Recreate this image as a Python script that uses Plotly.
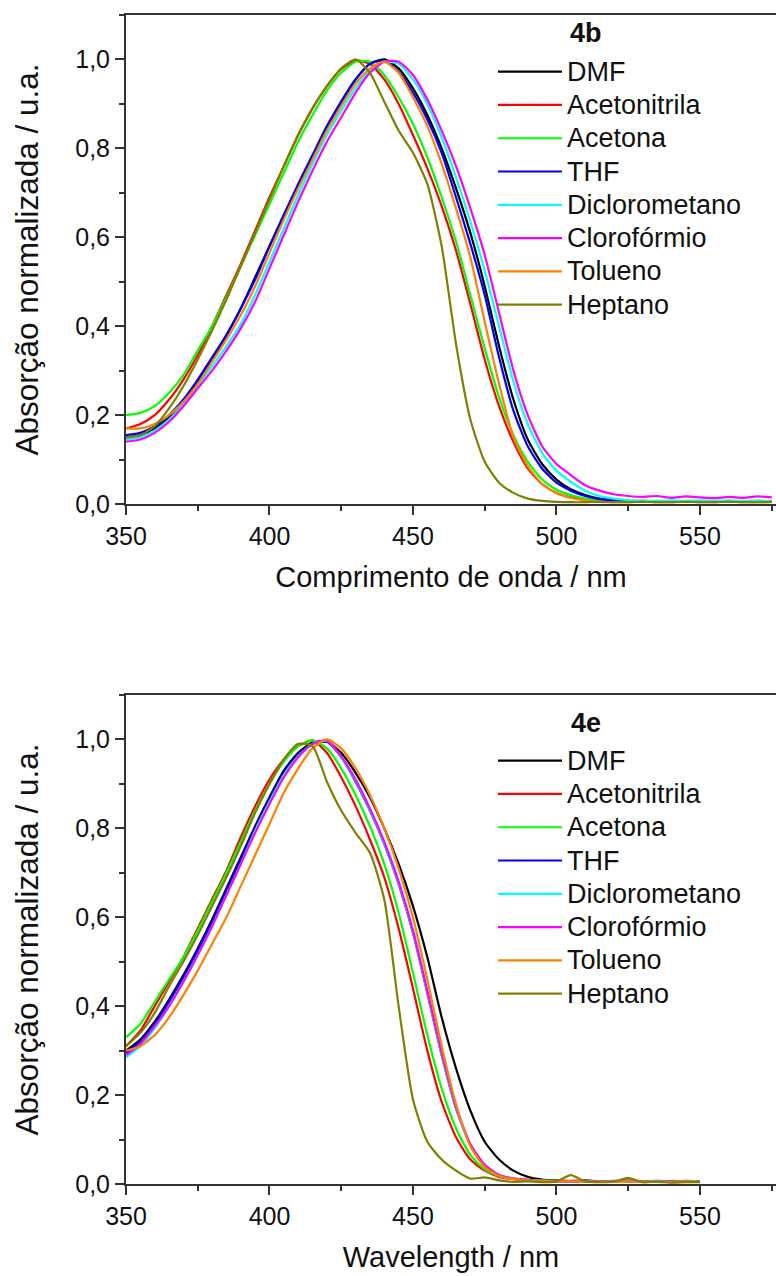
import plotly.graph_objects as go

# ---------------- data ----------------
solvents = ["DMF", "Acetonitrila", "Acetona", "THF", "Diclorometano",
            "Clorofórmio", "Tolueno", "Heptano"]
colors = ["#000000", "#FF0000", "#00FF00", "#0000FF", "#00FFFF",
          "#FF00FF", "#FF8000", "#808000"]

wl_4b = [350, 355, 360, 365, 370, 375, 380, 385, 390, 395,
         400, 405, 410, 415, 420, 425, 430, 435, 440, 445,
         450, 455, 460, 465, 470, 475, 480, 485, 490, 495,
         500, 505, 510, 515, 520, 525, 530, 535, 540, 545,
         550, 555, 560, 565, 570, 575]

dmf_4b = [0.15, 0.155, 0.17, 0.195, 0.23, 0.275, 0.325, 0.38, 0.44, 0.51,
          0.58, 0.65, 0.715, 0.78, 0.845, 0.905, 0.955, 0.99, 1.00, 0.98,
          0.935, 0.875, 0.80, 0.71, 0.61, 0.49, 0.355, 0.235, 0.145, 0.09,
          0.055, 0.033, 0.02, 0.012, 0.008, 0.006, 0.006, 0.005, 0.006, 0.005,
          0.006, 0.005, 0.006, 0.005, 0.006, 0.005]
acn_4b = [0.17, 0.18, 0.20, 0.235, 0.28, 0.335, 0.40, 0.47, 0.54, 0.615,
          0.69, 0.76, 0.83, 0.89, 0.94, 0.978, 0.998, 0.99, 0.955, 0.90,
          0.83, 0.755, 0.67, 0.57, 0.45, 0.325, 0.22, 0.14, 0.08, 0.045,
          0.025, 0.015, 0.01, 0.007, 0.006, 0.005, 0.005, 0.005, 0.006, 0.005,
          0.005, 0.006, 0.005, 0.005, 0.006, 0.005]
acet_4b = [0.20, 0.205, 0.22, 0.25, 0.29, 0.345, 0.40, 0.465, 0.535, 0.605,
           0.675, 0.745, 0.815, 0.875, 0.93, 0.97, 0.995, 0.995, 0.965, 0.915,
           0.855, 0.78, 0.69, 0.59, 0.47, 0.35, 0.24, 0.155, 0.095, 0.055,
           0.032, 0.02, 0.012, 0.008, 0.006, 0.005, 0.005, 0.006, 0.005, 0.005,
           0.006, 0.005, 0.005, 0.006, 0.005, 0.005]
thf_4b = [0.155, 0.16, 0.175, 0.20, 0.235, 0.28, 0.33, 0.38, 0.44, 0.505,
          0.58, 0.65, 0.72, 0.785, 0.85, 0.905, 0.955, 0.99, 0.997, 0.972,
          0.925, 0.865, 0.79, 0.69, 0.585, 0.47, 0.33, 0.21, 0.13, 0.08,
          0.048, 0.03, 0.018, 0.011, 0.008, 0.006, 0.006, 0.005, 0.006, 0.005,
          0.006, 0.005, 0.006, 0.005, 0.005, 0.006]
dcm_4b = [0.145, 0.15, 0.165, 0.19, 0.225, 0.265, 0.31, 0.355, 0.405, 0.47,
          0.545, 0.62, 0.695, 0.765, 0.83, 0.885, 0.935, 0.975, 0.995, 0.99,
          0.955, 0.90, 0.825, 0.735, 0.635, 0.525, 0.40, 0.275, 0.18, 0.115,
          0.075, 0.05, 0.03, 0.018, 0.012, 0.009, 0.008, 0.007, 0.008, 0.007,
          0.008, 0.007, 0.008, 0.007, 0.008, 0.007]
chcl3_4b = [0.14, 0.145, 0.16, 0.185, 0.22, 0.26, 0.30, 0.345, 0.395, 0.455,
            0.53, 0.605, 0.68, 0.75, 0.815, 0.87, 0.925, 0.97, 0.995, 0.995,
            0.965, 0.91, 0.84, 0.76, 0.665, 0.56, 0.43, 0.30, 0.20, 0.13,
            0.09, 0.065, 0.042, 0.03, 0.022, 0.018, 0.016, 0.018, 0.014, 0.017,
            0.015, 0.013, 0.016, 0.014, 0.017, 0.015]
tol_4b = [0.17, 0.17, 0.18, 0.20, 0.23, 0.27, 0.32, 0.37, 0.425, 0.49,
          0.565, 0.64, 0.71, 0.775, 0.84, 0.895, 0.945, 0.98, 0.995, 0.97,
          0.915, 0.85, 0.765, 0.665, 0.555, 0.41, 0.27, 0.15, 0.085, 0.045,
          0.025, 0.014, 0.008, 0.005, 0.004, 0.004, 0.005, 0.004, 0.004, 0.005,
          0.004, 0.004, 0.005, 0.004, 0.004, 0.005]
hep_4b = [0.15, 0.155, 0.175, 0.215, 0.265, 0.325, 0.39, 0.46, 0.535, 0.61,
          0.685, 0.76, 0.83, 0.89, 0.94, 0.98, 1.00, 0.97, 0.905, 0.84,
          0.79, 0.72, 0.58, 0.36, 0.19, 0.095, 0.048, 0.025, 0.012, 0.007,
          0.005, 0.004, 0.004, 0.005, 0.004, 0.004, 0.005, 0.004, 0.004, 0.005,
          0.004, 0.004, 0.005, 0.004, 0.004, 0.005]

wl_4e = [350, 355, 360, 365, 370, 375, 380, 385, 390, 395,
         400, 405, 410, 415, 420, 425, 430, 435, 440, 445,
         450, 455, 460, 465, 470, 475, 480, 485, 490, 495,
         500, 505, 510, 515, 520, 525, 530, 535, 540, 545,
         550]

dmf_4e = [0.30, 0.325, 0.365, 0.415, 0.47, 0.53, 0.595, 0.665, 0.735, 0.805,
          0.87, 0.93, 0.97, 0.993, 0.995, 0.97, 0.925, 0.87, 0.80, 0.72,
          0.625, 0.51, 0.375, 0.26, 0.165, 0.095, 0.055, 0.03, 0.016, 0.01,
          0.008, 0.006, 0.007, 0.006, 0.005, 0.006, 0.005, 0.006, 0.005, 0.005,
          0.005]
acn_4e = [0.31, 0.345, 0.40, 0.455, 0.51, 0.575, 0.64, 0.705, 0.78, 0.85,
          0.91, 0.955, 0.985, 0.998, 0.97, 0.915, 0.85, 0.775, 0.69, 0.575,
          0.44, 0.30, 0.185, 0.105, 0.055, 0.03, 0.016, 0.011, 0.009, 0.008,
          0.007, 0.007, 0.008, 0.006, 0.007, 0.008, 0.006, 0.007, 0.006, 0.007,
          0.006]
acet_4e = [0.33, 0.36, 0.41, 0.46, 0.51, 0.57, 0.635, 0.70, 0.77, 0.84,
           0.90, 0.95, 0.985, 0.998, 0.98, 0.935, 0.875, 0.805, 0.72, 0.61,
           0.475, 0.335, 0.215, 0.125, 0.065, 0.033, 0.018, 0.012, 0.009, 0.008,
           0.007, 0.006, 0.007, 0.006, 0.006, 0.007, 0.006, 0.006, 0.007, 0.006,
           0.006]
thf_4e = [0.295, 0.32, 0.36, 0.41, 0.465, 0.525, 0.59, 0.66, 0.73, 0.80,
          0.865, 0.925, 0.965, 0.99, 0.995, 0.96, 0.905, 0.84, 0.765, 0.675,
          0.565, 0.43, 0.29, 0.17, 0.088, 0.042, 0.02, 0.012, 0.009, 0.007,
          0.006, 0.006, 0.007, 0.006, 0.005, 0.006, 0.006, 0.005, 0.006, 0.005,
          0.005]
dcm_4e = [0.285, 0.31, 0.35, 0.40, 0.455, 0.515, 0.58, 0.65, 0.72, 0.795,
          0.86, 0.92, 0.962, 0.99, 0.997, 0.96, 0.907, 0.842, 0.767, 0.677,
          0.567, 0.432, 0.29, 0.17, 0.087, 0.041, 0.02, 0.012, 0.009, 0.007,
          0.006, 0.006, 0.006, 0.005, 0.006, 0.006, 0.005, 0.006, 0.005, 0.006,
          0.005]
chcl3_4e = [0.29, 0.315, 0.355, 0.40, 0.455, 0.515, 0.58, 0.65, 0.72, 0.79,
            0.855, 0.915, 0.96, 0.99, 0.998, 0.962, 0.91, 0.845, 0.77, 0.68,
            0.57, 0.435, 0.295, 0.173, 0.09, 0.043, 0.02, 0.012, 0.009, 0.007,
            0.006, 0.006, 0.005, 0.006, 0.006, 0.005, 0.006, 0.005, 0.006, 0.005,
            0.005]
tol_4e = [0.30, 0.31, 0.335, 0.375, 0.425, 0.48, 0.54, 0.60, 0.67, 0.74,
          0.81, 0.88, 0.935, 0.98, 1.00, 0.98, 0.935, 0.875, 0.80, 0.71,
          0.60, 0.46, 0.31, 0.18, 0.085, 0.038, 0.018, 0.011, 0.008, 0.007,
          0.006, 0.006, 0.005, 0.006, 0.005, 0.005, 0.006, 0.005, 0.005, 0.006,
          0.005]
hep_4e = [0.31, 0.34, 0.385, 0.445, 0.50, 0.56, 0.625, 0.69, 0.76, 0.835,
          0.90, 0.955, 0.99, 0.985, 0.905, 0.84, 0.79, 0.745, 0.64, 0.40,
          0.19, 0.095, 0.055, 0.03, 0.012, 0.015, 0.008, 0.005, 0.006, 0.004,
          0.006, 0.02, 0.006, 0.004, 0.005, 0.014, 0.004, 0.005, 0.003, 0.004,
          0.004]

series_4b = [dmf_4b, acn_4b, acet_4b, thf_4b, dcm_4b, chcl3_4b, tol_4b, hep_4b]
series_4e = [dmf_4e, acn_4e, acet_4e, thf_4e, dcm_4e, chcl3_4e, tol_4e, hep_4e]

x_ticks = [350, 400, 450, 500, 550]
y_ticks = [0.0, 0.2, 0.4, 0.6, 0.8, 1.0]
y_title = "Absorção normalizada / u.a."
x_title_top = "Comprimento de onda / nm"
x_title_bottom = "Wavelength / nm"
panel_labels = ["4b", "4e"]

# ---------------- figure ----------------
FONT = "Liberation Sans, Arial, sans-serif"
AX = "#333333"
TXT = "#111111"


def legend_name(name):
    return '<span style="font-size:27px">' + name + "</span>"


fig = go.Figure()
for name, col, ys in zip(solvents, colors, series_4b):
    fig.add_trace(go.Scatter(x=wl_4b, y=ys, name=legend_name(name), mode="lines",
                             line=dict(color=col, width=2.2, shape="spline", smoothing=0.6),
                             xaxis="x", yaxis="y", legend="legend"))
for name, col, ys in zip(solvents, colors, series_4e):
    fig.add_trace(go.Scatter(x=wl_4e, y=ys, name=legend_name(name), mode="lines",
                             line=dict(color=col, width=2.2, shape="spline", smoothing=0.6),
                             xaxis="x2", yaxis="y2", legend="legend2"))

x_dom = [126 / 776, 1.0]
top_dom = [(1276 - 504) / 1276, (1276 - 15) / 1276]
bot_dom = [(1276 - 1184) / 1276, (1276 - 695) / 1276]


def xaxis(title, anchor):
    return dict(domain=x_dom, range=[350, 576.5], anchor=anchor,
                tickvals=x_ticks, ticks="outside", ticklen=9, tickwidth=1.5, tickcolor=AX,
                minor=dict(dtick=25, tick0=350, ticks="outside", ticklen=5, tickwidth=1.5, tickcolor=AX),
                showline=True, linecolor=AX, linewidth=2, mirror=True,
                showgrid=False, zeroline=False,
                tickfont=dict(size=25, color=TXT, family=FONT),
                title=dict(text=title, font=dict(size=29, color=TXT, family=FONT), standoff=18),
                automargin=False)


def yaxis(dom, anchor):
    return dict(domain=dom, range=[0, 1.1], anchor=anchor,
                tickvals=y_ticks, tickformat=".1f", ticks="outside", ticklen=9, tickwidth=1.5, tickcolor=AX,
                minor=dict(dtick=0.1, tick0=0, ticks="outside", ticklen=5, tickwidth=1.5, tickcolor=AX),
                showline=True, linecolor=AX, linewidth=2, mirror=False,
                showgrid=False, zeroline=False,
                tickfont=dict(size=25, color=TXT, family=FONT),
                title=dict(text=y_title, font=dict(size=31.5, color=TXT, family=FONT), standoff=27),
                automargin=False)


def legend(ytop_px):
    return dict(x=493 / 776, y=(1276 - ytop_px) / 1276, xanchor="left", yanchor="top",
                bgcolor="rgba(0,0,0,0)", borderwidth=0,
                font=dict(size=23.3, color=TXT, family=FONT),
                itemwidth=64, traceorder="normal", tracegroupgap=0)


fig.update_layout(
    width=776, height=1276,
    margin=dict(l=0, r=0, t=0, b=0),
    paper_bgcolor="white", plot_bgcolor="white",
    separators=",.",
    font=dict(family=FONT, color=TXT),
    showlegend=True,
    xaxis=xaxis(x_title_top, "y"),
    yaxis=yaxis(top_dom, "x"),
    xaxis2=xaxis(x_title_bottom, "y2"),
    yaxis2=yaxis(bot_dom, "x2"),
    legend=legend(50),
    legend2=legend(739),
    annotations=[
        dict(text="<b>" + panel_labels[0] + "</b>", xref="paper", yref="paper",
             x=586 / 776, y=(1276 - 33) / 1276, xanchor="center", yanchor="middle",
             showarrow=False, font=dict(size=27, color=TXT, family=FONT)),
        dict(text="<b>" + panel_labels[1] + "</b>", xref="paper", yref="paper",
             x=586 / 776, y=(1276 - 723) / 1276, xanchor="center", yanchor="middle",
             showarrow=False, font=dict(size=27, color=TXT, family=FONT)),
    ],
)

fig.write_html("out.html")
